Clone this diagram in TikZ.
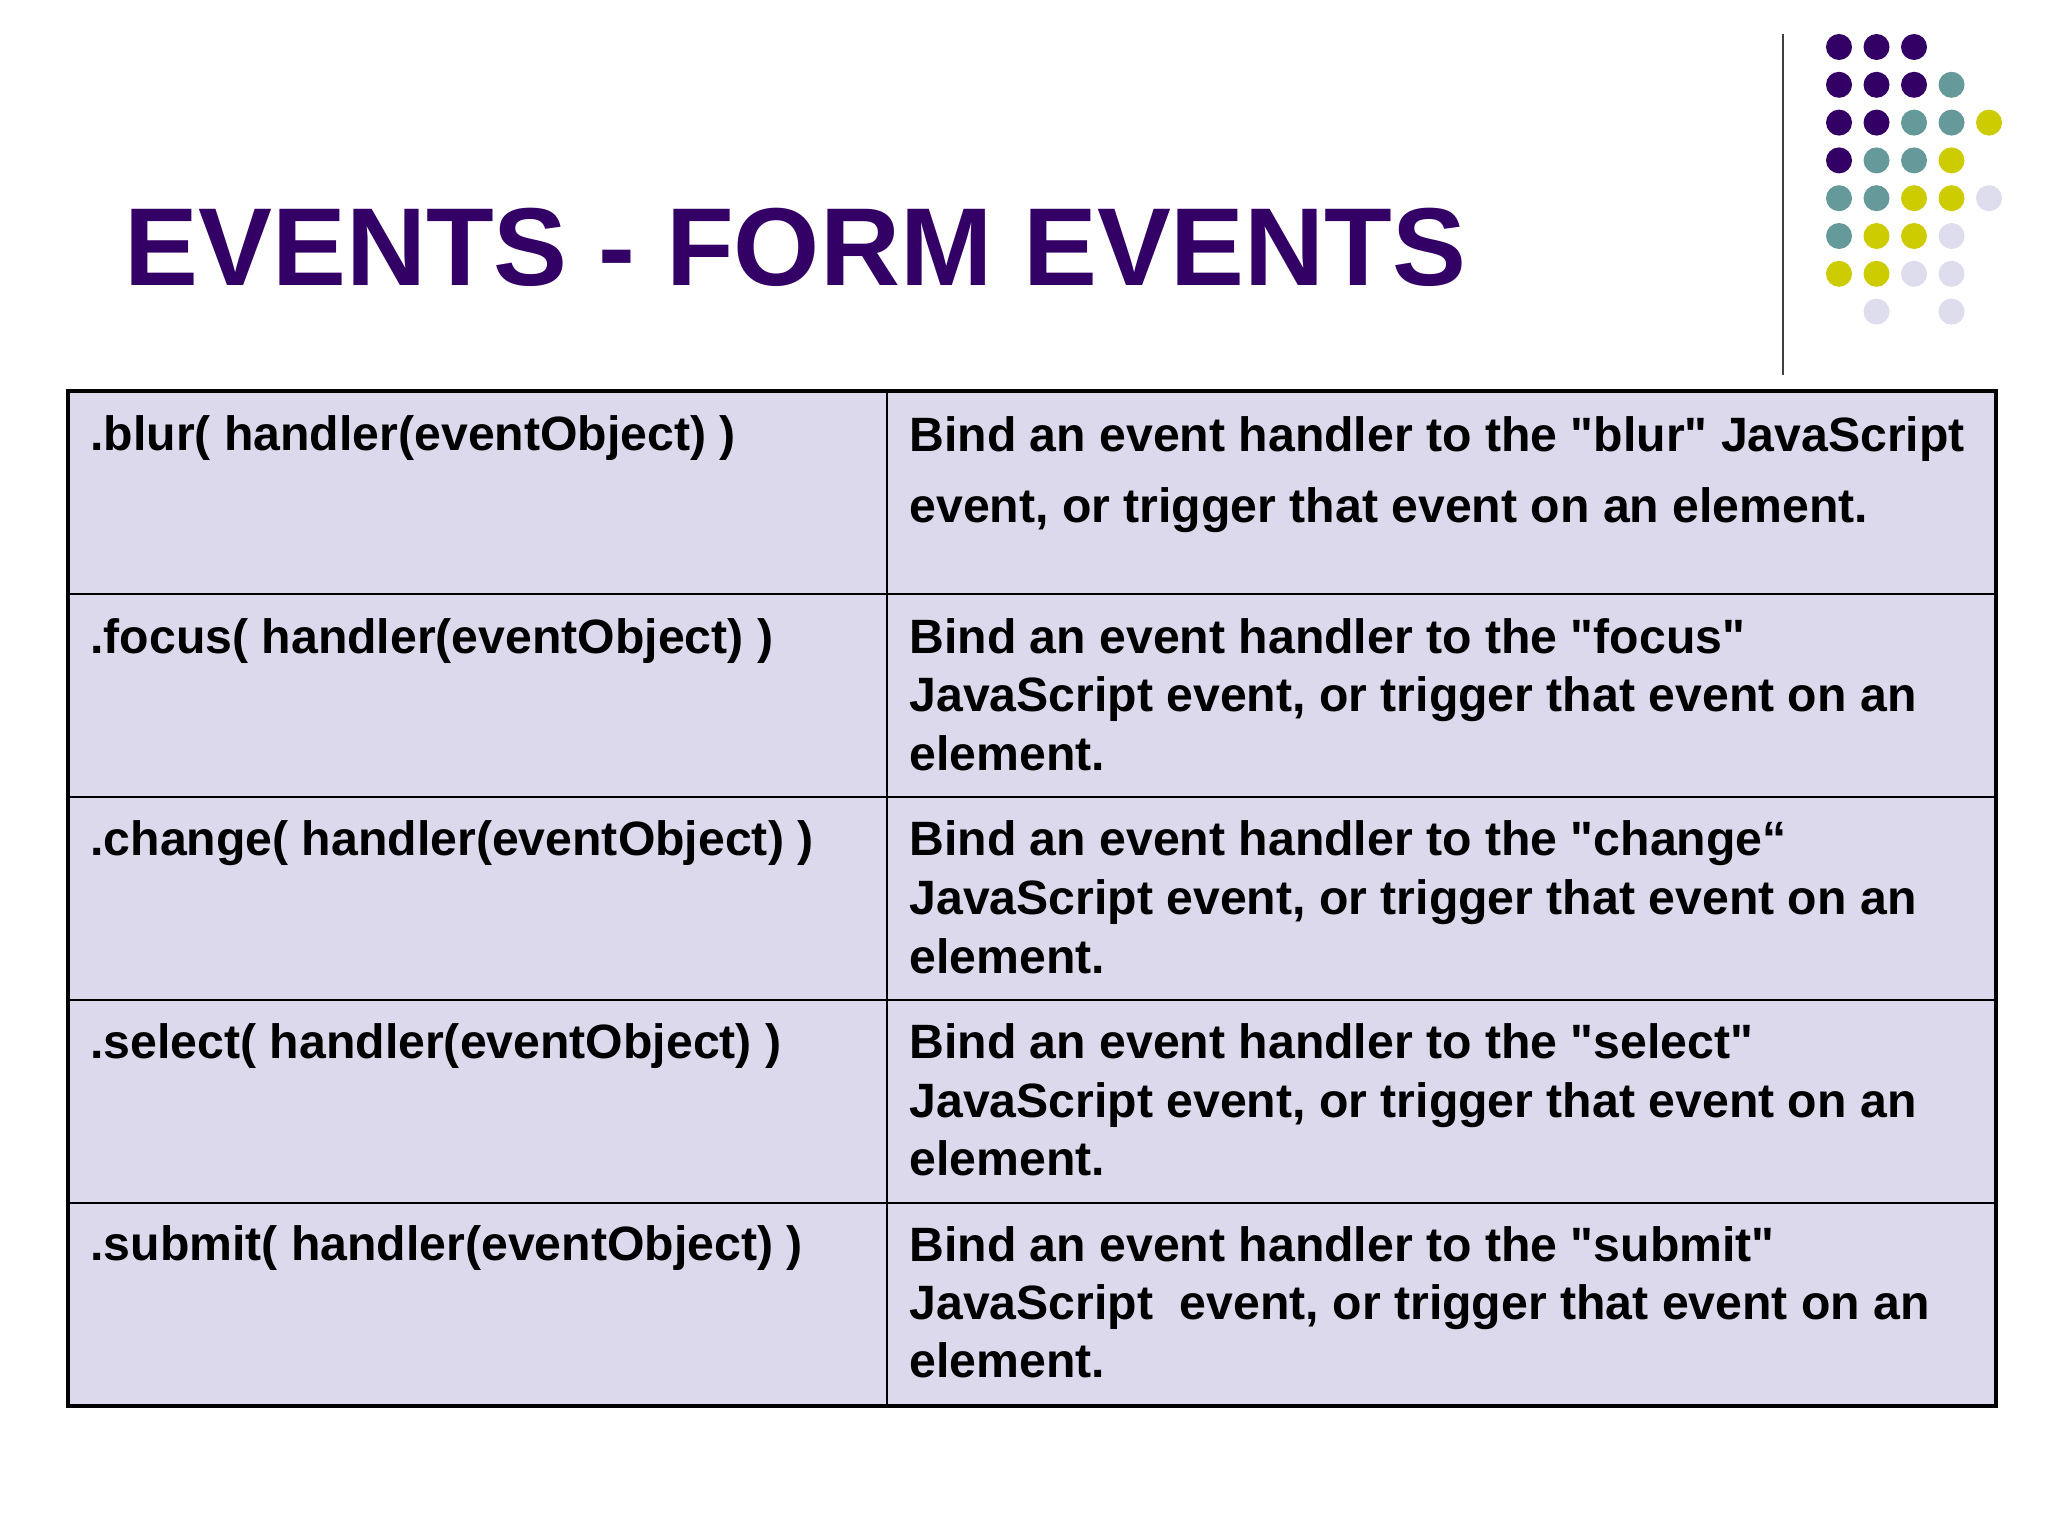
\documentclass[tikz,border=0pt]{standalone}
\usepackage{fontspec}
\setmainfont{Liberation Sans}[Ligatures=TeXOff]
\definecolor{ttlpurple}{RGB}{51,0,102}
\definecolor{dotP}{RGB}{51,0,102}
\definecolor{dotT}{RGB}{102,153,153}
\definecolor{dotY}{RGB}{204,204,0}
\definecolor{dotL}{RGB}{221,221,238}
\definecolor{cellfill}{RGB}{221,217,236}
\begin{document}
\begin{tikzpicture}[x=0.5pt,y=-0.5pt,
  txt/.style={anchor=base west, inner sep=0pt, font=\fontsize{24.1}{28}\selectfont\bfseries},
  ttl/.style={anchor=base west, inner sep=0pt, text=ttlpurple, font=\fontsize{55.4}{60}\selectfont\bfseries},
  inner line/.style={line width=1.2pt, black},
  outer line/.style={line width=2.4pt, black},
  dotstyle/.style={circle, inner sep=0pt, minimum size=13pt}]
\fill[white] (0,0) rectangle (2048,1536);
\useasboundingbox (0,0) rectangle (2048,1536);
% title
\node[ttl] (title) at (124,285) {EVENTS - FORM EVENTS};
% separator line
\coordinate (sepTop) at (1783,34);
\coordinate (sepBot) at (1783,375);
\draw[line width=1pt, black!75] (sepTop) -- (sepBot);
% dots
\foreach \i/\j/\c in {0/0/dotP,1/0/dotP,2/0/dotP,
  0/1/dotP,1/1/dotP,2/1/dotP,3/1/dotT,
  0/2/dotP,1/2/dotP,2/2/dotT,3/2/dotT,4/2/dotY,
  0/3/dotP,1/3/dotT,2/3/dotT,3/3/dotY,
  0/4/dotT,1/4/dotT,2/4/dotY,3/4/dotY,4/4/dotL,
  0/5/dotT,1/5/dotY,2/5/dotY,3/5/dotL,
  0/6/dotY,1/6/dotY,2/6/dotL,3/6/dotL,
  1/7/dotL,3/7/dotL}
  \node[dotstyle, fill=\c] (d\i\j) at ({1839+37.5*\i},{47+37.8*\j}) {};
% table
\fill[cellfill] (68,391) rectangle (1996,1406);
\foreach \yy in {594,797,1000,1203}
  \draw[inner line] (68,\yy) -- (1996,\yy);
\draw[inner line] (887,391) -- (887,1406);
\draw[outer line] (68,391) rectangle (1996,1406);
% left column
\node[txt] (L1) at (90,450) {.blur( handler(eventObject) )};
\node[txt] (L2) at (90,653) {.focus( handler(eventObject) )};
\node[txt] (L3) at (90,855) {.change( handler(eventObject) )};
\node[txt] (L4) at (90,1058) {.select( handler(eventObject) )};
\node[txt] (L5) at (90,1260) {.submit( handler(eventObject) )};
% right column
\node[txt] (R1a) at (909,451) {Bind an event handler to the "blur" JavaScript};
\node[txt] (R1b) at (909,522) {event, or trigger that event on an element.};
\node[txt] (R2a) at (909,653) {Bind an event handler to the "focus"};
\node[txt] (R2b) at (909,711) {JavaScript event, or trigger that event on an};
\node[txt] (R2c) at (909,770) {element.};
\node[txt] (R3a) at (909,855) {Bind an event handler to the "change“};
\node[txt] (R3b) at (909,914) {JavaScript event, or trigger that event on an};
\node[txt] (R3c) at (909,973) {element.};
\node[txt] (R4a) at (909,1058) {Bind an event handler to the "select"};
\node[txt] (R4b) at (909,1117) {JavaScript event, or trigger that event on an};
\node[txt] (R4c) at (909,1175) {element.};
\node[txt] (R5a) at (909,1261) {Bind an event handler to the "submit"};
\node[txt] (R5b) at (909,1319) {JavaScript\ \ event, or trigger that event on an};
\node[txt] (R5c) at (909,1377) {element.};
\end{tikzpicture}
\end{document}
